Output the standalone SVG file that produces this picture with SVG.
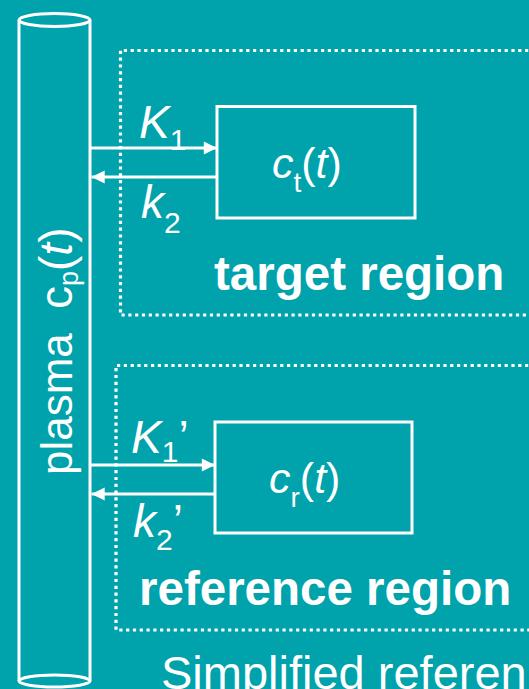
<svg xmlns="http://www.w3.org/2000/svg" width="529" height="689" viewBox="0 0 529 689">
<defs>
<style>
.ln{fill:none;stroke:#fff;stroke-width:3}
.dot{fill:none;stroke:#fff;stroke-width:3.2;stroke-dasharray:3.2 3.6}
.t{fill:#fff;font-family:"Liberation Sans",Arial,sans-serif}
.b{font-weight:bold;font-size:47.5px}
.i{font-style:italic}
</style>
<marker id="ah" viewBox="0 0 10 10" refX="10" refY="5" markerWidth="5" markerHeight="4.4" markerUnits="strokeWidth" orient="auto">
<path d="M0,0 L10,5 L0,10 Z" fill="#fff"/>
</marker>
</defs>
<rect width="529" height="689" fill="#00A2AC"/>
<g id="plasma">
<ellipse class="ln" cx="54.5" cy="20" rx="35.5" ry="6.5"/>
<ellipse class="ln" cx="54.5" cy="681" rx="35.5" ry="6"/>
<line class="ln" x1="19" y1="20" x2="19" y2="681"/>
<line class="ln" x1="90" y1="20" x2="90" y2="681"/>
<text class="t" font-size="44" transform="translate(72,475) rotate(-90)">plasma<tspan x="166" font-size="46">c</tspan><tspan font-size="27" dy="6">p</tspan><tspan font-size="46" dy="-6">(</tspan><tspan class="i" font-size="46">t</tspan><tspan font-size="46">)</tspan></text>
</g>
<g id="target-region">
<path class="dot" d="M535,50.5 H120.5 V315 H535"/>
<text class="t b" x="214" y="290">target region</text>
</g>
<g id="reference-region">
<path class="dot" d="M535,365.5 H116 V630 H535"/>
<text class="t b" x="139" y="605">reference region</text>
</g>
<g id="ct">
<rect class="ln" x="217" y="106.5" width="198" height="111.5"/>
<text class="t" font-size="43" x="272" y="178"><tspan class="i">c</tspan><tspan font-size="28" dy="14">t</tspan><tspan dy="-14">(</tspan><tspan class="i">t</tspan>)</text>
</g>
<g id="cr">
<rect class="ln" x="215" y="422" width="197" height="111"/>
<text class="t" font-size="43" x="269" y="493"><tspan class="i">c</tspan><tspan font-size="28" dy="14">r</tspan><tspan dy="-14">(</tspan><tspan class="i">t</tspan>)</text>
</g>
<g id="connectors">
<line class="ln" x1="90" y1="148" x2="217" y2="148" marker-end="url(#ah)"/>
<line class="ln" x1="217" y1="177" x2="91.5" y2="177" marker-end="url(#ah)"/>
<line class="ln" x1="90" y1="465" x2="215" y2="465" marker-end="url(#ah)"/>
<line class="ln" x1="215" y1="494" x2="91.5" y2="494" marker-end="url(#ah)"/>
<text class="t" font-size="46" x="139" y="138"><tspan class="i">K</tspan><tspan font-size="30" dy="12">1</tspan></text>
<text class="t" font-size="46" x="141" y="218"><tspan class="i">k</tspan><tspan font-size="30" dy="15">2</tspan></text>
<text class="t" font-size="46" x="131" y="453"><tspan class="i">K</tspan><tspan font-size="30" dy="9">1</tspan><tspan dy="-9">’</tspan></text>
<text class="t" font-size="46" x="133" y="537"><tspan class="i">k</tspan><tspan font-size="30" dy="13">2</tspan><tspan dy="-13">’</tspan></text>
</g>
<text class="t" font-size="47" x="161" y="689">Simplified referen</text>
</svg>
